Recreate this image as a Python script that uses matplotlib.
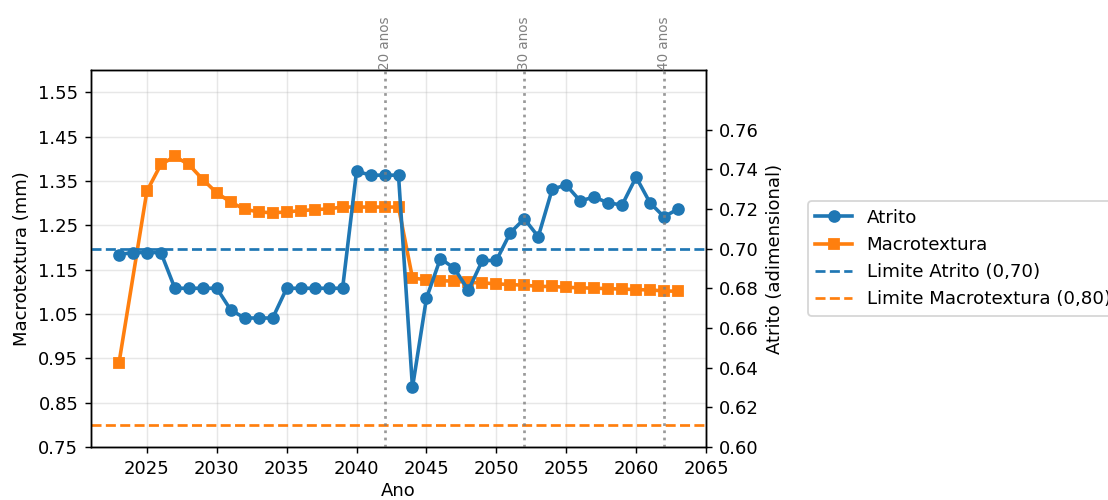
import matplotlib
matplotlib.use('Agg')
import matplotlib.pyplot as plt
import numpy as np

# Atrito (eixo direito), todos os anos
anos_atrito = list(range(2023, 2064))
atrito = [0.697, 0.698, 0.698, 0.698, 0.680, 0.680, 0.680, 0.680, 0.669, 0.665,
          0.665, 0.665, 0.680, 0.680, 0.680, 0.680, 0.680, 0.739, 0.737, 0.737,
          0.737, 0.630, 0.675, 0.695, 0.690, 0.679, 0.694, 0.694, 0.708, 0.715,
          0.706, 0.730, 0.732, 0.724, 0.726, 0.723, 0.722, 0.736, 0.723, 0.716,
          0.720]

# Macrotextura (eixo esquerdo), sem 2024
anos_macro = [2023] + list(range(2025, 2064))
macro = [0.939, 1.327, 1.387, 1.405, 1.387, 1.353, 1.323, 1.302, 1.286, 1.280,
         1.278, 1.280, 1.283, 1.285, 1.287, 1.291, 1.291, 1.291, 1.291, 1.291,
         1.131, 1.127, 1.125, 1.124, 1.121, 1.120, 1.118, 1.116, 1.115, 1.112,
         1.112, 1.110, 1.109, 1.108, 1.107, 1.106, 1.105, 1.104, 1.102, 1.101]

limite_atrito = 0.70
limite_macro = 0.80
marcos_anos = [2042, 2052, 2062]
marcos_txt = ['20 anos', '30 anos', '40 anos']

dpi = 130
fig, ax1 = plt.subplots(figsize=(1108/dpi, 500/dpi), dpi=dpi)
fig.subplots_adjust(left=91/1108, right=706/1108, top=1-70/500, bottom=1-447/500)
ax2 = ax1.twinx()

l2, = ax1.plot(anos_macro, macro, marker='s', color='tab:orange', lw=2, ms=5.5,
               label='Macrotextura')
l4 = ax1.axhline(limite_macro, color='tab:orange', ls='--', lw=1.5,
                 label='Limite Macrotextura (0,80)')
l1, = ax2.plot(anos_atrito, atrito, marker='o', color='tab:blue', lw=2, ms=6,
               label='Atrito')
l3 = ax2.axhline(limite_atrito, color='tab:blue', ls='--', lw=1.5,
                 label='Limite Atrito (0,70)')

ax1.set_xlim(2021, 2065)
ax1.set_ylim(0.75, 1.60)
ax1.set_yticks(np.arange(0.75, 1.56, 0.1))
ax2.set_ylim(0.60, 0.79)
ax2.set_yticks(np.arange(0.60, 0.761, 0.02))
ax1.set_xticks(range(2025, 2066, 5))
ax1.grid(True, alpha=0.3)

for a, t in zip(marcos_anos, marcos_txt):
    ax2.axvline(a, color='gray', ls=':', lw=1.5, alpha=0.8)
    ax2.text(a, 0.79, t, rotation=90, color='gray', fontsize=7.5,
             ha='center', va='bottom')

ax1.set_xlabel('Ano', labelpad=2.5)
ax1.set_ylabel('Macrotextura (mm)')
ax2.set_ylabel('Atrito (adimensional)')

ax1.legend([l1, l2, l3, l4], [h.get_label() for h in [l1, l2, l3, l4]],
           loc='center left', bbox_to_anchor=(1.151, 0.5), fontsize=10.15)

fig.savefig('out.png', dpi=dpi)
